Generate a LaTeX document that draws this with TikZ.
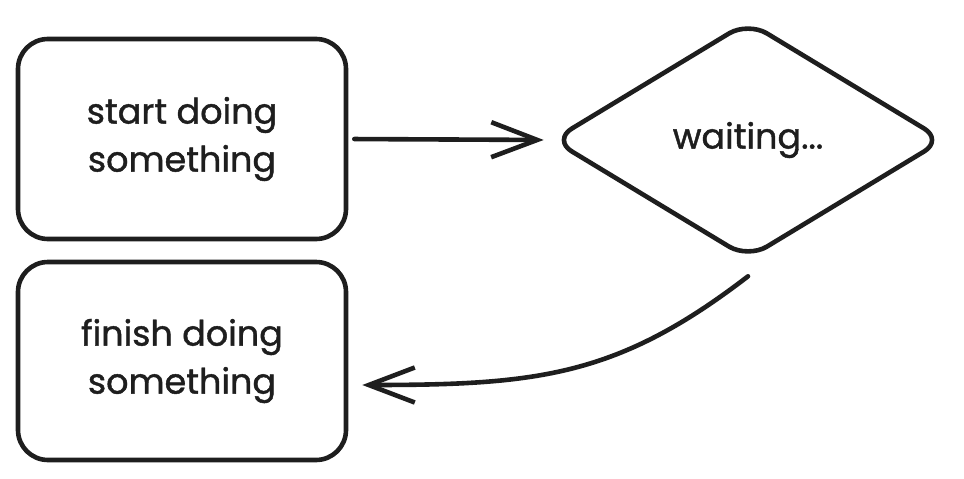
\documentclass[tikz,border=0pt]{standalone}
\usepackage{fontspec}
\setmainfont{Poppins}[UprightFeatures={FakeBold=1.2}]
\usetikzlibrary{shapes.geometric,arrows.meta}
\definecolor{ink}{HTML}{1E1E1E}
\begin{document}
\begin{tikzpicture}[x=1pt,y=-1pt,
  stroke/.style={line width=4.6pt, draw=ink, line cap=round, line join=round},
  txt/.style={font=\fontsize{35}{48}\selectfont, text=ink},
  procbox/.style={stroke, txt, rounded corners=30pt, minimum width=328pt, minimum height=200pt, inner sep=0pt, align=center},
  waitbox/.style={stroke, txt, diamond, rounded corners=22pt, minimum width=392pt, minimum height=238pt, inner sep=0pt},
  arr/.style={stroke, -{Straight Barb[length=46pt,width=35pt,line width=4.6pt]}}]
\useasboundingbox (0,0) rectangle (964,479);
\node[procbox] (b1) at (182,139) {start doing\\something};
\node[procbox, minimum height=198pt] (b2) at (182,361) {finish doing\\something};
\node[waitbox] (dia) at (748,140) {waiting...};
\draw[arr, shorten <=6pt, shorten >=6pt] (b1.east) -- (dia.west);
\draw[arr, shorten >=14pt] ([yshift=-15pt]dia.south) .. controls +(-130,100) and +(190,0) .. ([yshift=-24pt]b2.east);
\end{tikzpicture}
\end{document}
